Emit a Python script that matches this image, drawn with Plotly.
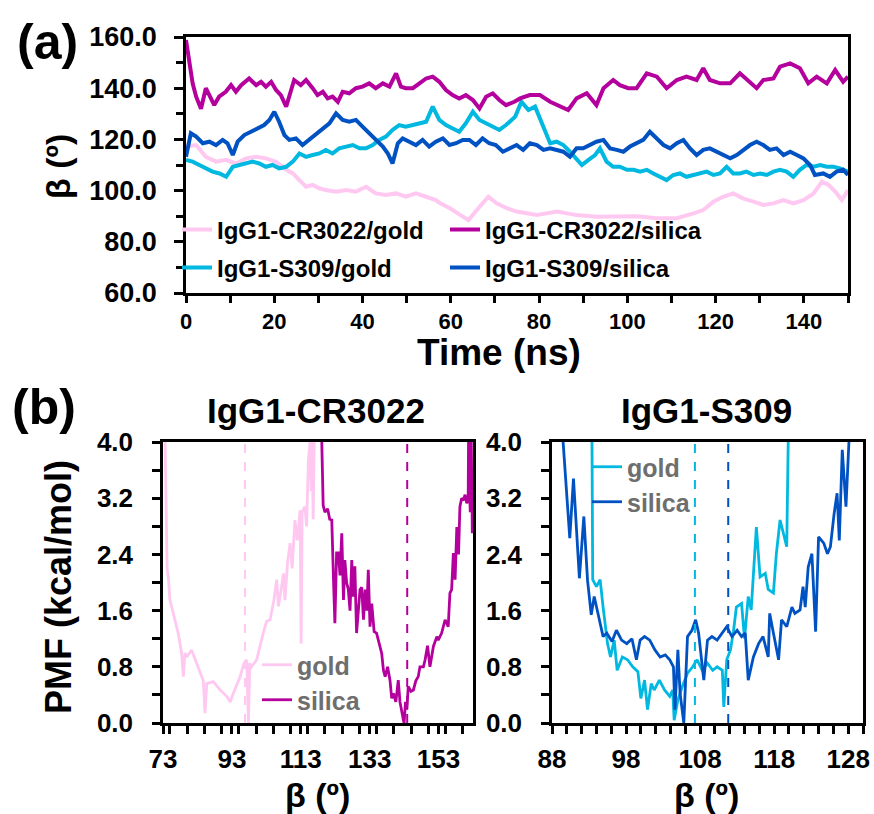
import plotly.graph_objects as go

# ---------------- (a) beta angle vs simulation time ----------------
t_cr_gold = [0, 2.3, 4.5, 6.8, 9.1, 11.3, 13.6, 15.9, 18.1, 20.4, 22.7, 24.2, 25.7, 27.2, 28.7,
             30.2, 31.7, 34.0, 36.3, 38.5, 40.8, 43.0, 45.3, 47.6, 49.8, 52.1, 54.4, 56.6, 57.6,
             59.8, 62.1, 64.0, 65.9, 68.5, 70.4, 72.7, 74.9, 77.2, 79.5, 81.7, 84.0, 86.3, 88.5,
             93.1, 97.6, 102.1, 106.7, 111.2, 115.0, 117.2, 119.5, 121.7, 124.0, 126.3, 128.6,
             130.8, 133.1, 135.4, 137.6, 139.9, 142.2, 144.1, 145.6, 147.1, 148.6, 150.0]
b_cr_gold = [117.2, 117.8, 113.2, 111.3, 112.0, 110.6, 112.6, 113.2, 112.6, 111.3, 108.1, 106.7,
             104.1, 101.5, 102.2, 100.9, 100.2, 99.6, 100.2, 99.6, 101.5, 98.9, 98.3, 98.9, 97.6,
             98.9, 97.6, 96.3, 95.0, 93.1, 90.5, 88.5, 92.4, 97.6, 95.0, 93.1, 91.8, 91.1, 90.5,
             91.1, 91.8, 91.1, 90.5, 89.8, 89.8, 90.0, 89.2, 89.2, 91.1, 92.4, 95.7, 97.6, 98.9,
             96.9, 95.7, 94.4, 95.0, 96.3, 95.0, 96.3, 98.9, 103.5, 102.2, 99.6, 96.3, 100.2]

t_cr_silica = [0, 0.75, 1.5, 2.3, 3.4, 4.5, 5.7, 6.4, 7.5, 9.0, 10.2, 11.3, 12.5, 14.3, 15.9, 17.0,
               18.1, 19.3, 20.4, 21.5, 22.7, 23.8, 24.5, 26.0, 27.2, 28.7, 29.8, 31.0, 32.1, 33.2,
               34.4, 35.5, 37.0, 38.5, 40.0, 41.5, 43.0, 44.6, 46.1, 47.6, 48.7, 49.8, 51.4, 52.9,
               54.4, 55.9, 57.4, 58.9, 60.4, 61.9, 63.4, 65.0, 66.5, 68.0, 69.5, 71.0, 72.5, 74.4,
               75.7, 77.9, 80.2, 82.5, 84.8, 86.6, 88.5, 90.8, 93.0, 94.6, 96.8, 98.3, 100.2,
               102.1, 104.4, 106.7, 108.9, 111.2, 113.4, 115.7, 117.2, 118.7, 121.0, 123.3, 125.5,
               127.8, 129.3, 130.8, 133.1, 134.6, 136.9, 139.1, 141.0, 142.9, 145.2, 147.1, 148.9,
               150.0]
b_cr_silica = [158.8, 149.7, 141.9, 136.7, 132.0, 140.0, 136.0, 133.4, 136.7, 138.6, 141.2, 138.6,
               141.2, 143.8, 141.2, 142.5, 140.6, 142.5, 139.3, 137.3, 132.8, 140.0, 143.2, 141.2,
               143.2, 140.0, 137.3, 138.6, 136.0, 136.7, 134.7, 138.6, 138.0, 140.0, 140.6, 141.9,
               140.0, 141.9, 140.6, 145.8, 140.6, 140.0, 140.0, 141.9, 143.8, 144.5, 142.5, 139.3,
               137.3, 136.0, 137.3, 135.4, 132.1, 136.7, 138.0, 135.4, 133.4, 134.7, 136.0, 137.3,
               137.3, 134.7, 132.8, 131.5, 136.0, 138.0, 133.4, 140.0, 143.2, 141.2, 140.0, 140.0,
               145.8, 144.5, 140.0, 143.2, 144.5, 143.2, 147.8, 143.2, 141.9, 141.9, 145.8, 142.5,
               140.0, 143.2, 143.8, 148.4, 149.7, 147.8, 141.9, 144.5, 141.9, 147.1, 142.5, 144.5]

t_s_gold = [0, 1.5, 3.0, 4.5, 6.0, 7.6, 9.1, 10.6, 12.1, 13.6, 15.1, 16.6, 18.1, 19.6, 21.1, 22.7,
            24.2, 25.7, 27.2, 28.7, 30.2, 31.7, 33.2, 34.7, 36.3, 37.8, 39.3, 40.8, 42.3, 43.8,
            45.3, 46.8, 48.3, 49.8, 51.4, 52.9, 54.4, 55.9, 57.4, 58.9, 60.4, 61.9, 63.4, 65.0,
            66.5, 68.0, 69.5, 71.0, 72.5, 74.6, 76.0, 77.6, 79.1, 80.2, 81.4, 82.5, 84.0, 85.5,
            87.0, 88.5, 89.7, 91.2, 92.7, 93.8, 95.3, 96.8, 98.3, 99.9, 101.4, 102.9, 104.4,
            105.9, 107.4, 108.9, 110.4, 111.9, 113.4, 115.0, 116.5, 118.0, 119.5, 121.0, 122.5,
            124.0, 125.5, 127.0, 128.6, 130.1, 131.6, 133.1, 134.6, 136.1, 137.6, 139.1, 140.6,
            142.2, 143.7, 145.2, 146.7, 148.2, 150.0]
b_s_gold = [112.0, 111.3, 110.0, 108.7, 107.4, 106.7, 105.4, 109.3, 110.0, 110.6, 111.3, 110.6,
            109.3, 110.0, 108.7, 109.3, 111.3, 114.5, 113.2, 113.9, 114.5, 115.9, 114.5, 116.5,
            117.2, 117.8, 116.5, 116.5, 117.8, 119.8, 121.1, 123.7, 125.6, 125.0, 125.6, 126.3,
            126.9, 132.8, 127.6, 125.6, 124.3, 123.0, 126.3, 130.8, 127.6, 126.3, 125.0, 123.7,
            125.6, 128.9, 134.7, 131.5, 132.8, 128.2, 122.4, 118.5, 119.1, 117.8, 115.2, 112.6,
            110.0, 112.0, 113.9, 116.5, 111.3, 109.3, 109.3, 108.1, 108.1, 107.4, 108.1, 106.7,
            105.4, 104.1, 106.1, 106.7, 105.4, 106.1, 106.7, 107.4, 106.1, 106.7, 109.3, 106.7,
            106.7, 107.4, 106.1, 106.7, 106.1, 107.4, 108.1, 107.4, 105.4, 108.1, 110.0, 109.3,
            110.0, 109.3, 109.3, 108.7, 107.4]

t_s_silica = [0, 1.1, 2.3, 3.8, 5.3, 6.8, 8.3, 9.4, 10.6, 11.7, 13.2, 14.7, 16.2, 17.7, 18.9,
              20.0, 21.1, 22.3, 23.4, 24.9, 26.4, 27.9, 29.5, 31.0, 32.5, 34.0, 35.5, 37.0, 38.5,
              40.0, 41.5, 43.0, 44.6, 45.7, 46.8, 48.0, 49.1, 50.6, 52.1, 53.6, 55.1, 56.6, 58.2,
              59.7, 61.2, 62.7, 64.2, 65.7, 67.2, 68.7, 70.2, 71.8, 73.3, 74.9, 76.4, 77.9, 79.5,
              81.0, 82.5, 84.0, 85.5, 87.0, 88.5, 90.0, 91.5, 93.0, 94.6, 96.1, 97.6, 99.1, 100.6,
              102.1, 103.6, 105.1, 106.7, 108.2, 109.7, 111.2, 112.7, 114.2, 115.7, 117.2, 118.7,
              120.3, 121.8, 123.3, 124.8, 126.3, 127.8, 129.3, 130.8, 132.3, 133.8, 135.4, 136.9,
              138.4, 139.9, 141.4, 142.5, 144.4, 145.9, 147.4, 148.9, 150.0]
b_s_silica = [113.2, 122.4, 121.1, 118.5, 119.1, 117.8, 119.8, 118.5, 113.9, 119.1, 121.7, 123.0,
              124.3, 125.6, 127.6, 130.8, 126.9, 121.7, 119.8, 120.4, 117.8, 119.8, 122.4, 124.3,
              126.3, 130.2, 127.6, 126.9, 127.6, 125.0, 122.4, 119.8, 117.2, 114.6, 110.6, 118.5,
              120.4, 119.1, 117.8, 119.8, 117.2, 119.1, 120.4, 117.8, 118.5, 119.8, 119.8, 117.8,
              120.4, 118.5, 117.8, 115.2, 116.5, 117.8, 115.9, 118.5, 117.8, 115.9, 116.5, 115.9,
              115.2, 113.2, 116.5, 116.5, 117.8, 119.1, 119.8, 116.5, 115.9, 115.2, 117.2, 118.5,
              119.8, 123.0, 120.4, 117.8, 116.5, 118.5, 119.8, 116.5, 113.9, 115.9, 116.5, 115.2,
              113.9, 112.6, 113.9, 115.9, 117.8, 119.1, 117.8, 115.9, 116.5, 113.9, 115.2, 113.9,
              112.6, 110.0, 106.1, 106.7, 105.4, 107.4, 108.1, 106.1]

# ---------------- (b) potentials of mean force ----------------
beta_cr_gold = [73.6, 73.9, 74.2, 74.6, 75.0, 76.0, 77.4, 78.4, 78.9, 79.4, 79.9, 81.3, 82.7, 83.7,
                84.7, 85.2, 85.7, 87.6, 89.6, 91.5, 92.5, 93.4, 94.5, 95.4, 96.5, 97.3, 97.8, 98.2,
                98.7, 100.2, 102.1, 103.1, 104.1, 105.2, 106.0, 106.5, 107.3, 108.0, 108.4, 109.2,
                109.9, 110.5, 111.3, 112.0, 112.8, 113.1, 113.4, 114.2, 114.7, 115.2, 115.7, 116.0,
                116.3, 116.6, 116.9]
pmf_cr_gold = [4.0, 3.0, 2.2, 2.05, 1.75, 1.56, 1.28, 1.0, 0.66, 1.0, 0.94, 1.04, 0.85, 0.73, 0.6,
               0.14, 0.56, 0.59, 0.47, 0.38, 0.3, 0.42, 0.55, 0.66, 0.85, 0.9, 0.0, 0.85, 0.8, 0.9,
               1.28, 1.45, 1.47, 1.75, 2.04, 1.66, 1.9, 2.13, 1.75, 2.3, 2.56, 2.2, 2.89, 2.6, 3.03,
               1.13, 3.0, 3.08, 2.8, 3.74, 4.0, 3.3, 4.0, 2.9, 4.0]

beta_cr_silica = [119.1, 119.5, 120.0, 120.8, 121.4, 122.0, 122.5, 122.9, 123.4, 123.9, 124.4,
                  124.9, 125.4, 125.8, 126.3, 126.8, 127.3, 127.8, 128.2, 128.7, 129.2, 129.7,
                  130.2, 130.7, 131.2, 131.7, 132.2, 132.6, 133.1, 133.6, 134.3, 135.0, 135.8,
                  136.5, 137.0, 137.5, 138.2, 138.9, 139.4, 139.9, 140.6, 141.3, 141.8, 142.3,
                  142.8, 143.0, 143.4, 143.8, 144.2, 145.0, 145.7, 146.4, 147.1, 147.6, 148.6,
                  149.1, 149.8, 150.5, 151.5, 152.5, 152.9, 153.9, 154.9, 155.8, 156.3, 156.8,
                  157.3, 157.8, 158.3, 158.8, 159.2, 159.7, 160.2, 160.7, 161.2, 161.6, 161.7,
                  162.2, 162.5, 162.8]
pmf_cr_silica = [4.0, 3.1, 3.0, 3.05, 2.9, 2.89, 2.04, 1.42, 2.42, 2.42, 2.1, 2.7, 1.75, 2.32, 2.0,
                 1.9, 1.6, 2.32, 1.8, 2.23, 1.28, 1.65, 1.9, 1.93, 1.47, 1.9, 1.6, 2.18, 1.37, 1.7,
                 1.3, 1.28, 1.1, 0.99, 0.75, 0.66, 0.8, 0.61, 0.35, 0.42, 0.3, 0.61, 0.3, 0.14,
                 0.04, 0.0, 0.3, 0.19, 0.52, 0.45, 0.47, 0.6, 0.66, 0.8, 0.8, 0.9, 1.1, 0.8, 1.09,
                 1.23, 1.18, 1.28, 1.47, 1.37, 1.85, 1.9, 2.42, 2.04, 2.79, 2.4, 3.08, 3.2, 3.17,
                 3.25, 3.13, 3.17, 4.0, 3.0, 4.0, 2.7]

beta_s_gold = [93.4, 93.5, 94.0, 94.5, 94.9, 95.5, 95.9, 96.4, 96.8, 97.5, 98.2, 98.9, 99.6, 100.0,
               100.5, 100.9, 101.4, 101.8, 102.5, 103.2, 103.9, 104.3, 104.5, 105.0, 105.6, 106.3,
               107.0, 107.6, 108.3, 109.0, 109.7, 110.3, 111.0, 111.2, 111.6, 112.1, 112.5, 112.9,
               113.6, 114.0, 114.5, 114.9, 115.6, 116.1, 116.8, 117.2, 117.9, 118.3, 118.8, 119.2,
               119.7, 119.9]
pmf_s_gold = [4.0, 2.04, 1.94, 2.04, 1.65, 1.13, 0.94, 1.18, 0.75, 0.94, 0.9, 0.8, 0.73, 0.35, 0.61,
              0.19, 0.56, 0.47, 0.61, 0.47, 0.38, 0.47, 0.04, 0.33, 0.52, 0.71, 0.8, 0.9, 0.75,
              0.85, 0.75, 0.8, 0.75, 0.23, 0.9, 1.04, 1.3, 1.65, 1.7, 1.2, 1.8, 1.61, 2.79, 2.08,
              2.13, 1.9, 1.85, 2.41, 2.89, 2.7, 2.51, 4.0]

beta_s_silica = [89.5, 90.4, 90.9, 91.7, 92.3, 92.8, 93.3, 93.7, 94.5, 94.9, 95.4, 96.1, 96.7, 97.4,
                 98.1, 98.8, 99.4, 99.9, 100.5, 101.2, 101.9, 102.6, 103.3, 103.9, 104.4, 104.6,
                 105.0, 105.3, 105.8, 106.3, 106.9, 107.4, 107.8, 108.5, 109.0, 109.6, 110.3,
                 111.0, 111.6, 112.3, 113.0, 113.6, 114.1, 114.5, 115.2, 115.9, 116.5, 117.2,
                 117.4, 117.9, 118.6, 119.0, 119.7, 120.4, 120.8, 121.5, 121.9, 122.2, 122.6,
                 123.1, 123.6, 124.0, 124.7, 125.2, 125.6, 126.1, 126.5, 126.8, 127.2, 127.7,
                 128.1]
pmf_s_silica = [4.0, 2.63, 3.48, 2.06, 2.94, 2.03, 1.54, 1.8, 1.42, 1.23, 1.28, 1.16, 1.32, 1.18,
                1.13, 1.2, 0.9, 1.18, 1.23, 1.18, 1.04, 0.94, 0.97, 0.9, 0.8, 0.19, 1.04, 0.42, 0.0,
                1.23, 1.32, 1.47, 1.28, 0.61, 1.18, 1.23, 1.18, 1.28, 1.37, 1.23, 1.32, 1.23, 1.28,
                0.61, 0.94, 1.13, 1.23, 0.94, 1.56, 1.28, 0.9, 1.47, 1.37, 1.65, 1.56, 1.61, 1.94,
                1.65, 2.22, 2.41, 1.3, 2.65, 2.56, 2.41, 2.51, 2.98, 3.27, 2.6, 3.89, 3.08, 4.0]

# most probable beta for each system (dashed markers)
beta_ref_cr = {"gold": 96.8, "silica": 143.9}
beta_ref_s = {"gold": 107.3, "silica": 111.8}

PINK = "#FFC8F0"
MAGENTA = "#B4009C"
CYAN = "#00B8E0"
BLUE = "#0052C2"
GREY = "#6E6E6E"
FONT = "Liberation Sans"

W, H = 874, 814


def px(x):
    return x / W


def py(y):
    return 1 - y / H


fig = go.Figure()

# panel (a) traces, one legend per entry so the 2x2 key can be placed freely
series_a = [
    ("IgG1-CR3022/gold", t_cr_gold, b_cr_gold, PINK, "legend"),
    ("IgG1-S309/gold", t_s_gold, b_s_gold, CYAN, "legend2"),
    ("IgG1-S309/silica", t_s_silica, b_s_silica, BLUE, "legend4"),
    ("IgG1-CR3022/silica", t_cr_silica, b_cr_silica, MAGENTA, "legend3"),
]
for name, t, b, c, lg in series_a:
    fig.add_trace(go.Scatter(x=t, y=b, mode="lines", name=name, legend=lg,
                             line=dict(color=c, width=4), xaxis="x", yaxis="y"))

# panel (b) left: IgG1-CR3022
fig.add_trace(go.Scatter(x=beta_cr_gold, y=pmf_cr_gold, mode="lines", name="gold",
                         legend="legend5", line=dict(color=PINK, width=2.8),
                         xaxis="x2", yaxis="y2"))
fig.add_trace(go.Scatter(x=beta_cr_silica, y=pmf_cr_silica, mode="lines", name="silica",
                         legend="legend6", line=dict(color=MAGENTA, width=2.8),
                         xaxis="x2", yaxis="y2"))
# panel (b) right: IgG1-S309
fig.add_trace(go.Scatter(x=beta_s_gold, y=pmf_s_gold, mode="lines", name="gold",
                         legend="legend7", line=dict(color=CYAN, width=2.8),
                         xaxis="x3", yaxis="y3"))
fig.add_trace(go.Scatter(x=beta_s_silica, y=pmf_s_silica, mode="lines", name="silica",
                         legend="legend8", line=dict(color=BLUE, width=2.8),
                         xaxis="x3", yaxis="y3"))

for (val, col, xa, ya) in [(beta_ref_cr["gold"], PINK, "x2", "y2"),
                           (beta_ref_cr["silica"], MAGENTA, "x2", "y2"),
                           (beta_ref_s["gold"], CYAN, "x3", "y3"),
                           (beta_ref_s["silica"], BLUE, "x3", "y3")]:
    fig.add_trace(go.Scatter(x=[val, val], y=[0, 4], mode="lines", showlegend=False,
                             line=dict(color=col, width=2, dash="dash"),
                             xaxis=xa, yaxis=ya, hoverinfo="skip"))

axis_common = dict(showline=True, linecolor="black", linewidth=2.5, mirror=True,
                   ticks="outside", tickcolor="black", tickwidth=2.5, showgrid=False,
                   zeroline=False, fixedrange=True, automargin=False)

fig.update_layout(
    width=W, height=H, margin=dict(l=0, r=0, t=0, b=0, autoexpand=False),
    paper_bgcolor="white", plot_bgcolor="white",
    font=dict(family=FONT, color="black", weight="bold"),
    showlegend=True,
    xaxis=dict(domain=[px(186), px(848)], range=[0, 150], dtick=20, tick0=0, ticklen=7,
               minor=dict(dtick=10, ticks="outside", ticklen=7, tickcolor="black", tickwidth=2.5),
               ticklabelstandoff=0,
               tickfont=dict(size=22, family=FONT, weight="bold"), anchor="y", **axis_common),
    yaxis=dict(domain=[py(293), py(37)], range=[60, 160], dtick=20, tick0=60, ticklen=9,
               tickformat=".1f", ticklabelstandoff=12,
               minor=dict(dtick=10, ticks="outside", ticklen=7, tickcolor="black", tickwidth=2.5),
               tickfont=dict(size=27, family=FONT, weight="bold"), anchor="x", **axis_common),
    xaxis2=dict(domain=[px(163), px(473)], range=[73, 163], dtick=20, tick0=73, ticklen=8,
                minor=dict(dtick=5, ticks="outside", ticklen=8, tickcolor="black", tickwidth=2.5),
                ticklabelstandoff=3,
                tickfont=dict(size=26, family=FONT, weight="bold"), anchor="y2", **axis_common),
    yaxis2=dict(domain=[py(723), py(442)], range=[0, 4], dtick=0.8, tick0=0, ticklen=8,
                tickformat=".1f", ticklabelstandoff=14,
                minor=dict(dtick=0.4, ticks="outside", ticklen=8, tickcolor="black", tickwidth=2.5),
                tickfont=dict(size=26, family=FONT, weight="bold"), anchor="x2", **axis_common),
    xaxis3=dict(domain=[px(552), px(863)], range=[88, 130], dtick=10, tick0=88, ticklen=8,
                minor=dict(dtick=2, ticks="outside", ticklen=8, tickcolor="black", tickwidth=2.5),
                ticklabelstandoff=3,
                tickfont=dict(size=26, family=FONT, weight="bold"), anchor="y3", **axis_common),
    yaxis3=dict(domain=[py(723), py(442)], range=[0, 4], dtick=0.8, tick0=0, ticklen=8,
                tickformat=".1f", ticklabelstandoff=14,
                minor=dict(dtick=0.4, ticks="outside", ticklen=8, tickcolor="black", tickwidth=2.5),
                tickfont=dict(size=26, family=FONT, weight="bold"), anchor="x3", **axis_common),
)

leg_a = dict(font=dict(size=24, family=FONT, color="black", weight="bold"),
             bgcolor="rgba(0,0,0,0)", xanchor="left", yanchor="middle", itemwidth=30)
leg_b = dict(font=dict(size=25, family=FONT, color=GREY, weight="bold"),
             bgcolor="rgba(0,0,0,0)", xanchor="left", yanchor="middle", itemwidth=30)
fig.update_layout(
    legend=dict(x=px(177), y=py(230), **leg_a),
    legend2=dict(x=px(177), y=py(268), **leg_a),
    legend3=dict(x=px(445), y=py(230), **leg_a),
    legend4=dict(x=px(445), y=py(268), **leg_a),
    legend5=dict(x=px(257), y=py(665), **leg_b),
    legend6=dict(x=px(257), y=py(700), **leg_b),
    legend7=dict(x=px(587), y=py(467), **leg_b),
    legend8=dict(x=px(587), y=py(502), **leg_b),
)

ann = [
    ("(a)", 47, 42, 50, 0),
    ("(b)", 44, 407, 50, 0),
    ("IgG1-CR3022", 316, 410, 35, 0),
    ("IgG1-S309", 706, 410, 35, 0),
    ("Time (ns)", 499, 353, 37, 0),
    ("β (º)", 58, 166, 34, -90),
    ("PMF (kcal/mol)", 58, 587, 36, -90),
    ("β (º)", 317, 795, 34, 0),
    ("β (º)", 706, 795, 34, 0),
]
for text, x, y, size, rot in ann:
    fig.add_annotation(text=text, x=px(x), y=py(y), xref="paper", yref="paper",
                       showarrow=False, textangle=rot, xanchor="center", yanchor="middle",
                       font=dict(size=size, family=FONT, color="black", weight="bold"))

fig.write_html("out.html")
